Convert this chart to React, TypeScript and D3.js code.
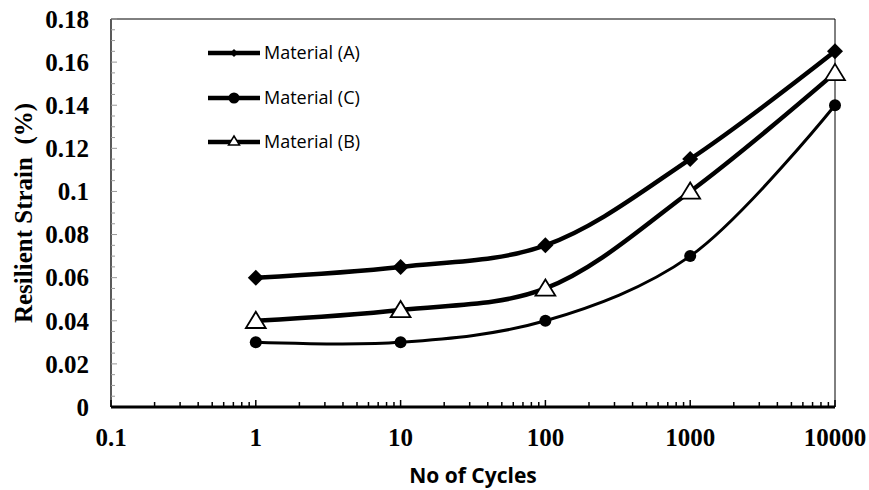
import React from "react";
import * as d3 from "d3";

const cycles = [1, 10, 100, 1000, 10000];
const materialA = [0.06, 0.065, 0.075, 0.115, 0.165];
const materialC = [0.03, 0.03, 0.04, 0.07, 0.14];
const materialB = [0.04, 0.045, 0.055, 0.1, 0.155];
const xTickValues = [0.1, 1, 10, 100, 1000, 10000];
const xTickLabels = ["0.1", "1", "10", "100", "1000", "10000"];
const yTickValues = [0, 0.02, 0.04, 0.06, 0.08, 0.1, 0.12, 0.14, 0.16, 0.18];
const yTickLabels = ["0", "0.02", "0.04", "0.06", "0.08", "0.1", "0.12", "0.14", "0.16", "0.18"];
const legendNames = ["Material (A)", "Material (C)", "Material (B)"];

const W = 869, H = 490;
const L = 111, R = 835, T = 19, B = 407;

export default function App() {
  const x = d3.scaleLog().domain([0.1, 10000]).range([L, R]);
  const y = d3.scaleLinear().domain([0, 0.18]).range([B, T]);
  const line = d3.line<[number, number]>().x(d => x(d[0])).y(d => y(d[1])).curve(d3.curveCatmullRom.alpha(0.5));
  const pts = (vals: number[]) => cycles.map((c, i) => [c, vals[i]] as [number, number]);

  const minorX: number[] = [];
  for (let e = -1; e < 4; e++) for (let k = 2; k <= 9; k++) minorX.push(k * Math.pow(10, e));
  const minorY: number[] = [];
  for (let v = 0.005; v < 0.18; v += 0.005) if (Math.abs(v / 0.02 - Math.round(v / 0.02)) > 0.01) minorY.push(v);

  const diamond = (cx: number, cy: number, s: number) => `M${cx},${cy - s}L${cx + s},${cy}L${cx},${cy + s}L${cx - s},${cy}Z`;
  const tri = (cx: number, cy: number, s: number) => `M${cx},${cy - s}L${cx + s * 1.1},${cy + s * 0.8}L${cx - s * 1.1},${cy + s * 0.8}Z`;

  const serif = "'Liberation Serif', 'Times New Roman', serif";
  const sans = "'Open Sans', 'Noto Sans', sans-serif";

  const legendY = [53, 98, 142];

  return (
    <svg width={W} height={H} style={{ position: "absolute", left: 0, top: 0, background: "#fff" }}>
      {/* frame */}
      <line x1={L} y1={T} x2={R} y2={T} stroke="#000" strokeWidth={1} />
      <line x1={R} y1={T} x2={R} y2={B} stroke="#000" strokeWidth={1} />
      <line x1={L} y1={T} x2={L} y2={B} stroke="#000" strokeWidth={1.3} />
      {/* y minor ticks */}
      {minorY.map((v, i) => (
        <line key={"my" + i} x1={L} x2={L + 4} y1={y(v)} y2={y(v)} stroke="#999" strokeWidth={1} />
      ))}
      {yTickValues.map((v, i) => (
        <line key={"yt" + i} x1={L} x2={L + 6} y1={y(v)} y2={y(v)} stroke="#999" strokeWidth={1} />
      ))}
      {/* x ticks */}
      {minorX.map((v, i) => (
        <line key={"mx" + i} x1={x(v)} x2={x(v)} y1={B} y2={B - 5} stroke="#000" strokeWidth={1.5} />
      ))}
      {xTickValues.map((v, i) => (
        <line key={"xt" + i} x1={x(v)} x2={x(v)} y1={B} y2={B - 7} stroke="#000" strokeWidth={1.5} />
      ))}
      <line x1={L} y1={B} x2={R} y2={B} stroke="#000" strokeWidth={3} />
      {/* tick labels */}
      {yTickValues.map((v, i) => (
        <text key={"yl" + i} x={89} y={y(v)} dy="0.35em" textAnchor="end" fontFamily={serif} fontWeight="bold" fontSize={25}>{yTickLabels[i]}</text>
      ))}
      {xTickValues.map((v, i) => (
        <text key={"xl" + i} x={x(v)} y={446} textAnchor="middle" fontFamily={serif} fontWeight="bold" fontSize={25}>{xTickLabels[i]}</text>
      ))}
      <text x={473} y={483} textAnchor="middle" fontFamily={sans} fontWeight="bold" fontSize={21}>No of Cycles</text>
      <text transform={`translate(32,213) rotate(-90)`} textAnchor="middle" fontFamily={serif} fontWeight="bold" fontSize={25} style={{ whiteSpace: "pre" }}>Resilient Strain  (%)</text>
      {/* series lines */}
      <path d={line(pts(materialA)) || ""} fill="none" stroke="#000" strokeWidth={4.5} />
      <path d={line(pts(materialB)) || ""} fill="none" stroke="#000" strokeWidth={4.5} />
      <path d={line(pts(materialC)) || ""} fill="none" stroke="#000" strokeWidth={3} />
      {/* markers */}
      {cycles.map((c, i) => (
        <path key={"ma" + i} d={diamond(x(c), y(materialA[i]), 8)} fill="#000" />
      ))}
      {cycles.map((c, i) => (
        <circle key={"mc" + i} cx={x(c)} cy={y(materialC[i])} r={6} fill="#000" />
      ))}
      {cycles.map((c, i) => (
        <path key={"mb" + i} d={tri(x(c), y(materialB[i]), 9)} fill="#fff" stroke="#000" strokeWidth={1.8} />
      ))}
      {/* legend */}
      {legendNames.map((n, i) => (
        <g key={"lg" + i}>
          <line x1={208} x2={260} y1={legendY[i]} y2={legendY[i]} stroke="#000" strokeWidth={4.5} />
          {i === 0 && <path d={diamond(234, legendY[i], 4)} fill="#000" />}
          {i === 1 && <circle cx={234} cy={legendY[i]} r={5.5} fill="#000" />}
          {i === 2 && <path d={tri(234, legendY[i] - 1, 5)} fill="#fff" stroke="#000" strokeWidth={1.5} />}
          <text x={264} y={legendY[i]} dy="0.35em" fontFamily={sans} fontSize={18}>{n}</text>
        </g>
      ))}
    </svg>
  );
}
